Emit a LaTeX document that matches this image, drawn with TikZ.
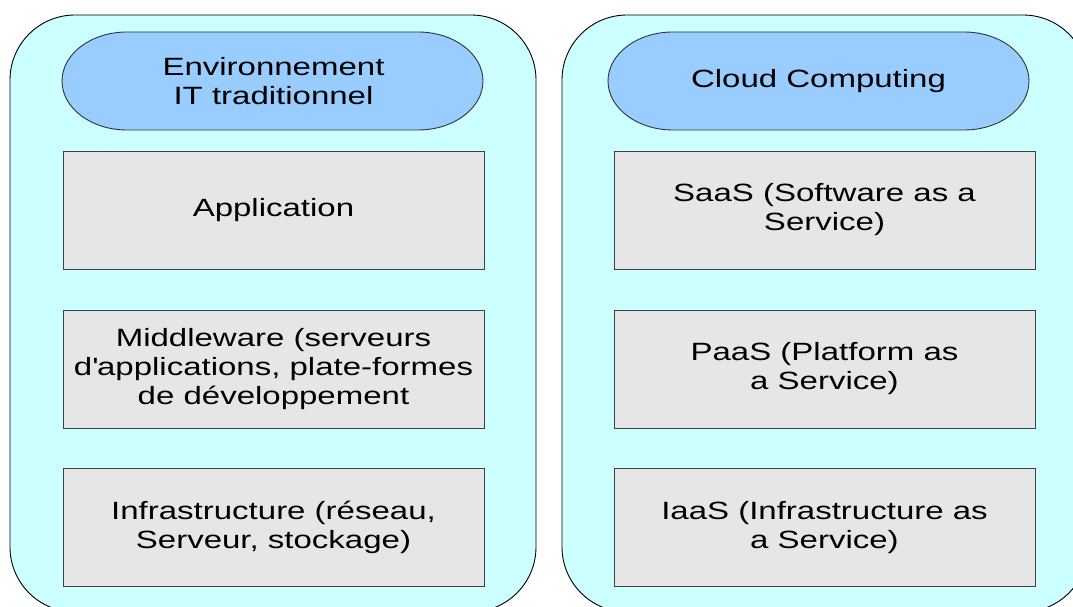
\documentclass[tikz,border=0pt]{standalone}
\usepackage{fontspec}
\setmainfont{Liberation Sans}[FakeStretch=1.32]
\definecolor{panelcyan}{HTML}{CCFFFF}
\definecolor{capsuleblue}{HTML}{99CCFF}
\definecolor{layergray}{HTML}{E6E6E6}
\tikzset{
  panel/.style={draw=black, fill=panelcyan, line width=0.9pt, rounded corners=65pt},
  capsule/.style={draw=black!80, fill=capsuleblue, line width=0.9pt},
  layer/.style={draw=black!75, fill=layergray, line width=0.9pt, minimum width=421pt,
    minimum height=118pt, align=center, inner sep=0pt},
  label/.style={align=center, inner sep=0pt},
}
\begin{document}
\begin{tikzpicture}[x=1pt, y=1pt, font=\fontsize{25}{29}\selectfont]
  \useasboundingbox (0,0) rectangle (1073,606);
  \clip (0,0) rectangle (1073,606);
  % the two columns
  \draw [panel] (10,591) rectangle (536,-6);
  \draw [panel] (562,591) rectangle (1088,-6);
  % title capsules
  \draw [capsule] (127,574) -- (418,574)
    arc [start angle=90, end angle=-90, x radius=65, y radius=49] -- (127,476)
    arc [start angle=270, end angle=90, x radius=65, y radius=49] -- cycle;
  \draw [capsule] (673,574) -- (964,574)
    arc [start angle=90, end angle=-90, x radius=65, y radius=49] -- (673,476)
    arc [start angle=270, end angle=90, x radius=65, y radius=49] -- cycle;
  \node [label] (trad) at (273.5,525) {Environnement\\IT traditionnel};
  \node [label] (cloud) at (818.5,525) {Cloud Computing};
  % traditional stack
  \node [layer] (app) at (273.5,396) {Application};
  \node [layer] (mid) at (273.5,237) {Middleware (serveurs\\d\textquotesingle applications, plate-formes\\de développement};
  \node [layer] (infra) at (273.5,78.5) {Infrastructure (réseau,\\Serveur, stockage)};
  % cloud stack
  \node [layer] (saas) at (824.5,396) {SaaS (Software as a\\Service)};
  \node [layer] (paas) at (824.5,237) {PaaS (Platform as\\a Service)};
  \node [layer] (iaas) at (824.5,78.5) {IaaS (Infrastructure as\\a Service)};
\end{tikzpicture}
\end{document}
